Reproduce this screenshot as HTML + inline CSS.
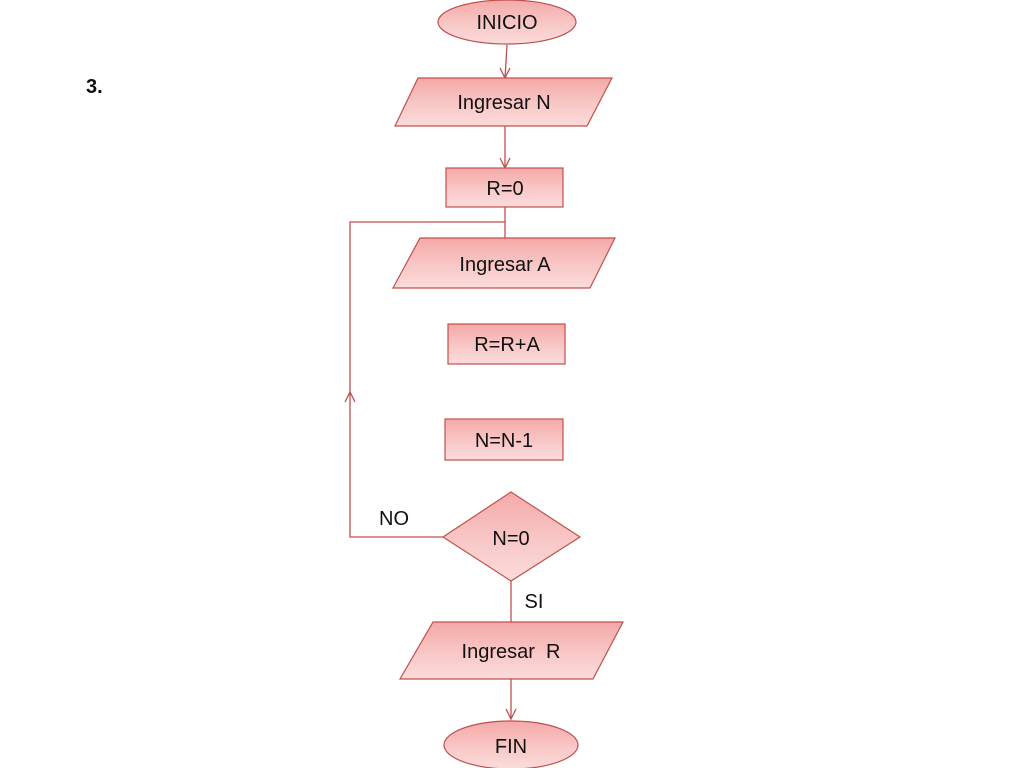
<!DOCTYPE html>
<html><head><meta charset="utf-8"><style>
html,body{margin:0;padding:0;background:#fff;width:1024px;height:768px;overflow:hidden}
svg text{font-family:"Liberation Sans",sans-serif;fill:#111}
</style></head><body>
<svg width="1024" height="768" viewBox="0 0 1024 768" xmlns="http://www.w3.org/2000/svg">
<defs>
<linearGradient id="g" x1="0" y1="0" x2="0" y2="1">
<stop offset="0" stop-color="#f4a9a8"/><stop offset="0.55" stop-color="#f8c8c7"/><stop offset="1" stop-color="#fbdcdb"/>
</linearGradient>
</defs>
<g stroke="#c0504d" stroke-width="1.3" fill="none">
<line x1="507" y1="45" x2="505" y2="78"/>
<polyline points="500,68 505,78 510,68"/>
<line x1="505" y1="126" x2="505" y2="168"/>
<polyline points="500,158 505,168 510,158"/>
<line x1="505" y1="207" x2="505" y2="238"/>
<polyline points="505,222 350,222 350,537 443,537"/>
<polyline points="345,402 350,392 355,402"/>
<line x1="511" y1="581" x2="511" y2="622"/>
<line x1="511" y1="679" x2="511" y2="719"/>
<polyline points="506,709 511,719 516,709"/>
</g>
<g fill="url(#g)" stroke="#c0504d" stroke-width="1.2">
<ellipse cx="507" cy="22" rx="69" ry="22"/>
<polygon points="418,78 612,78 587,126 395,126"/>
<rect x="446" y="168" width="117" height="39"/>
<polygon points="420,238 615,238 590,288 393,288"/>
<rect x="448" y="324" width="117" height="40"/>
<rect x="445" y="419" width="118" height="41"/>
<polygon points="511,492 580,537 511,581 443,537"/>
<polygon points="433,622 623,622 593,679 400,679"/>
<ellipse cx="511" cy="745" rx="67" ry="24"/>
</g>
<g font-size="20" text-anchor="middle">
<text x="507" y="29">INICIO</text>
<text x="504" y="109">Ingresar N</text>
<text x="505" y="195">R=0</text>
<text x="505" y="271">Ingresar A</text>
<text x="507" y="351">R=R+A</text>
<text x="504" y="447">N=N-1</text>
<text x="511" y="545">N=0</text>
<text x="511" y="658">Ingresar&#160; R</text>
<text x="511" y="753">FIN</text>
<text x="394" y="525">NO</text>
<text x="534" y="608">SI</text>
</g>
<text x="86" y="93" font-size="20" font-weight="bold">3.</text>
</svg>
</body></html>
